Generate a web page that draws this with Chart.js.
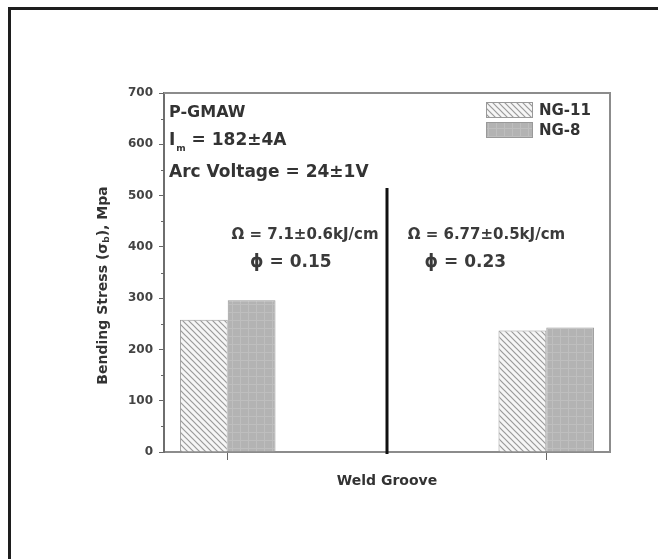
<!DOCTYPE html>
<html>
<head>
<meta charset="utf-8">
<title>Bending stress by weld groove</title>
<script src="https://cdn.jsdelivr.net/npm/chart.js@4/dist/chart.umd.min.js"></script>
<style>
  html, body { margin: 0; padding: 0; background: #fff; }
  body { width: 658px; height: 559px; position: relative; overflow: hidden; }
  #frame {
    position: absolute; left: 8px; top: 7px; width: 720px; height: 620px;
    border-left: 3px solid #1e1e1e; border-top: 3px solid #1e1e1e;
  }
  #chart { position: absolute; left: 0; top: 0; }
</style>
</head>
<body>
<div id="frame"></div>
<canvas id="chart" width="658" height="559"></canvas>
<script>
// groove positions on the x axis, one group of bars each
const groups = [1, 2];
const seriesNames = ["NG-11", "NG-8"];
const ng11 = [258, 237];
const ng8 = [296, 243];
const yTicks = [0, 100, 200, 300, 400, 500, 600, 700];
const heatInput = ["7.1±0.6", "6.77±0.5"];
const phi = ["0.15", "0.23"];

const FONT = "'DejaVu Sans', sans-serif";

function hatchPattern() {
  const c = document.createElement("canvas");
  c.width = 6; c.height = 6;
  const g = c.getContext("2d");
  g.fillStyle = "#f6f6f6";
  g.fillRect(0, 0, 6, 6);
  g.strokeStyle = "#9a9a9a";
  g.lineWidth = 1.2;
  g.beginPath();
  g.moveTo(-1, -1); g.lineTo(7, 7);
  g.moveTo(-1, 5); g.lineTo(1, 7);
  g.moveTo(5, -1); g.lineTo(7, 1);
  g.stroke();
  return g.createPattern(c, "repeat");
}

function gridPattern() {
  const c = document.createElement("canvas");
  c.width = 8; c.height = 8;
  const g = c.getContext("2d");
  g.fillStyle = "#b3b3b3";
  g.fillRect(0, 0, 8, 8);
  g.fillStyle = "#bebebe";
  g.fillRect(0, 0, 8, 1);
  g.fillRect(0, 0, 1, 8);
  return g.createPattern(c, "repeat");
}

const fills = [hatchPattern(), gridPattern()];

// frame, divider, legend and the process notes
const decor = {
  id: "decor",
  afterDraw(chart) {
    const { ctx, chartArea: a, scales: { x, y } } = chart;
    ctx.save();

    ctx.strokeStyle = "#8c8c8c";
    ctx.lineWidth = 2;
    ctx.beginPath();
    ctx.moveTo(a.left, a.top);
    ctx.lineTo(a.right, a.top);
    ctx.lineTo(a.right, a.bottom);
    ctx.stroke();

    // minor ticks between the labelled ones
    ctx.strokeStyle = "#666";
    ctx.lineWidth = 1;
    for (let v = 50; v < 700; v += 100) {
      const py = Math.round(y.getPixelForValue(v)) + 0.5;
      ctx.beginPath();
      ctx.moveTo(a.left - 3, py);
      ctx.lineTo(a.left, py);
      ctx.stroke();
    }

    // separator between the two grooves
    const xd = x.getPixelForValue(1.5);
    ctx.strokeStyle = "#111";
    ctx.lineWidth = 3;
    ctx.beginPath();
    ctx.moveTo(xd, y.getPixelForValue(515));
    ctx.lineTo(xd, y.getPixelForValue(0) + 2);
    ctx.stroke();

    // legend
    ctx.textBaseline = "alphabetic";
    ctx.font = "bold 15px " + FONT;
    seriesNames.forEach((name, i) => {
      const bx = a.right - 124, by = a.top + 9 + i * 20;
      ctx.fillStyle = fills[i];
      ctx.fillRect(bx, by, 46, 15);
      ctx.strokeStyle = "#999";
      ctx.lineWidth = 1;
      ctx.strokeRect(bx + 0.5, by + 0.5, 46, 15);
      ctx.fillStyle = "#333";
      ctx.fillText(name, bx + 53, by + 13);
    });

    // process conditions, top left
    const lx = a.left + 5;
    ctx.fillStyle = "#333";
    ctx.font = "bold 16px " + FONT;
    ctx.fillText("P-GMAW", lx, a.top + 24);
    ctx.font = "bold 17px " + FONT;
    ctx.fillText("I", lx, a.top + 52);
    let w = ctx.measureText("I").width;
    ctx.font = "bold 9px " + FONT;
    ctx.fillText("m", lx + w + 1, a.top + 58);
    const wm = ctx.measureText("m").width;
    ctx.font = "bold 17px " + FONT;
    ctx.fillText(" = 182±4A", lx + w + wm + 1, a.top + 52);
    ctx.fillText("Arc Voltage = 24±1V", lx, a.top + 84);

    // heat input and phi for each groove
    const noteX = [1.012, 1.565];
    const phiX = [1.07, 1.618];
    groups.forEach((g, i) => {
      ctx.fillStyle = "#3a3a3a";
      ctx.font = "bold 15px " + FONT;
      ctx.textBaseline = "middle";
      ctx.fillText("Ω = " + heatInput[i] + "kJ/cm", x.getPixelForValue(noteX[i]), y.getPixelForValue(423));
      ctx.font = "bold 17px " + FONT;
      ctx.fillText("ϕ = " + phi[i], x.getPixelForValue(phiX[i]), y.getPixelForValue(369));
    });

    // y axis title with subscript
    ctx.translate(103, (a.top + a.bottom) / 2 + 13);
    ctx.rotate(-Math.PI / 2);
    ctx.textBaseline = "middle";
    ctx.fillStyle = "#333";
    const big = "bold 14px " + FONT, small = "bold 9px " + FONT;
    const parts = [["Bending Stress (σ", big, 0], ["b", small, 4], ["), Mpa", big, 0]];
    let total = 0;
    parts.forEach(p => { ctx.font = p[1]; total += ctx.measureText(p[0]).width; });
    let px = -total / 2;
    parts.forEach(p => {
      ctx.font = p[1];
      ctx.fillText(p[0], px, p[2]);
      px += ctx.measureText(p[0]).width;
    });

    ctx.restore();
  }
};

new Chart(document.getElementById("chart"), {
  type: "bar",
  data: {
    datasets: [
      {
        label: seriesNames[0],
        data: groups.map((g, i) => ({ x: g, y: ng11[i] })),
        backgroundColor: fills[0],
        borderColor: "#999",
        borderWidth: 1
      },
      {
        label: seriesNames[1],
        data: groups.map((g, i) => ({ x: g, y: ng8[i] })),
        backgroundColor: fills[1],
        borderColor: "#999",
        borderWidth: 1
      }
    ]
  },
  options: {
    responsive: false,
    devicePixelRatio: 1,
    animation: false,
    categoryPercentage: 0.3,
    barPercentage: 1,
    layout: { padding: { left: 0, top: 93, right: 48, bottom: 69 } },
    plugins: {
      legend: { display: false },
      tooltip: { enabled: false }
    },
    scales: {
      x: {
        type: "linear",
        min: 0.8,
        max: 2.2,
        offset: false,
        afterBuildTicks: s => { s.ticks = groups.map(v => ({ value: v })); },
        afterFit: s => { s.height = 38; },
        ticks: { display: false },
        grid: {
          display: true,
          offset: false,
          drawOnChartArea: false,
          drawTicks: true,
          tickLength: 8,
          color: "#666",
          lineWidth: 1
        },
        border: { display: true, color: "#8c8c8c", width: 2 },
        title: {
          display: true,
          text: "Weld Groove",
          color: "#333",
          padding: 0,
          font: { family: FONT, size: 14, weight: "bold" }
        }
      },
      y: {
        min: 0,
        max: 700,
        afterBuildTicks: s => { s.ticks = yTicks.map(v => ({ value: v })); },
        afterFit: s => { s.width = 164; },
        ticks: {
          color: "#444",
          padding: 6,
          font: { family: FONT, size: 12, weight: "bold" }
        },
        grid: {
          display: true,
          drawOnChartArea: false,
          drawTicks: true,
          tickLength: 5,
          color: "#666",
          lineWidth: 1
        },
        border: { display: true, color: "#6e6e6e", width: 2 }
      }
    }
  },
  plugins: [decor]
});
</script>
</body>
</html>
